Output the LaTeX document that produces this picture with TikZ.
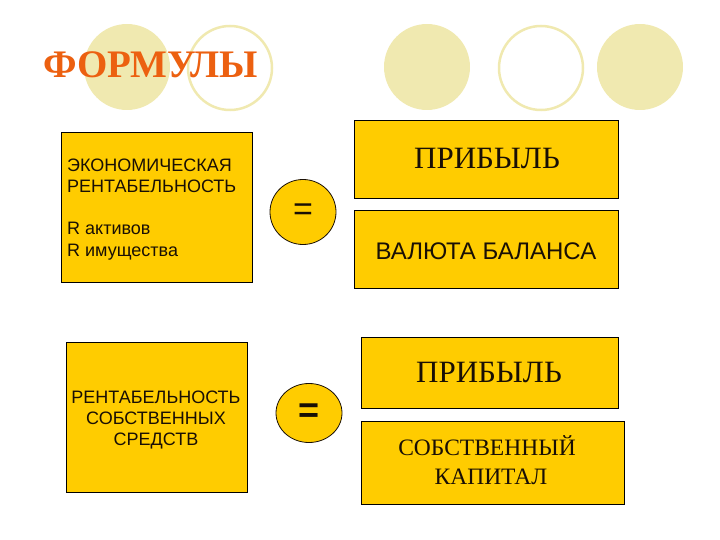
\documentclass[tikz,border=0pt]{standalone}
\usepackage{fontspec}
\setmainfont{Liberation Serif}
\newfontfamily\arialf{Liberation Sans}
\usetikzlibrary{shapes.geometric}
\definecolor{gold}{RGB}{255,204,0}
\definecolor{paleyel}{RGB}{240,233,176}
\definecolor{titleor}{RGB}{236,96,16}
\definecolor{inkc}{RGB}{25,15,5}
\tikzset{
  dot/.style={circle, minimum size=86pt, inner sep=0pt, fill=paleyel},
  ring/.style={circle, minimum size=84pt, inner sep=0pt, draw=paleyel, line width=2.5pt, fill=white},
  box/.style={rectangle, draw=black, line width=1pt, fill=gold, inner sep=0pt, anchor=north west},
  eqc/.style={ellipse, draw=inkc, line width=0.8pt, fill=gold, inner sep=0pt},
  sans/.style={font=\arialf\fontsize{18}{21}\selectfont, text=inkc, inner sep=0pt},
  serifbig/.style={font=\fontsize{31}{36}\selectfont, text=inkc, inner sep=0pt, anchor=base},
  serifmid/.style={font=\fontsize{23.5}{27}\selectfont, text=inkc, inner sep=0pt, anchor=base}
}
\begin{document}
\begin{tikzpicture}[x=1pt, y=-1pt]
\useasboundingbox (0,0) rectangle (720,540);
% background circles
\node[dot] (c1) at (127,67) {};
\node[ring] (c2) at (230,68) {};
\node[dot] (c3) at (427,67) {};
\node[ring] (c4) at (541,68) {};
\node[dot] (c5) at (640,67) {};
% title
\node[font=\bfseries\fontsize{39}{44}\selectfont, text=titleor, inner sep=0pt, anchor=base west] (title) at (43,78) {ФОРМУЛЫ};
% boxes
\node[box, minimum width=191pt, minimum height=150pt] (bA) at (61,132) {};
\node[box, minimum width=181pt, minimum height=150pt] (bC) at (66,342) {};
\node[box, minimum width=264pt, minimum height=78pt] (bB1) at (354,120) {};
\node[box, minimum width=264pt, minimum height=78pt] (bB2) at (354,210) {};
\node[box, minimum width=257pt, minimum height=71pt] (bD) at (361,337) {};
\node[box, minimum width=263pt, minimum height=83pt] (bE) at (361,421) {};
% equals circles
\node[eqc, minimum width=66pt, minimum height=65pt] (e1) at (303,212) {};
\node[font=\arialf\fontsize{34}{34}\selectfont, text=inkc, inner sep=0pt] (eq1) at (e1.center) {=};
\node[eqc, minimum width=66pt, minimum height=59pt] (e2) at (309,413) {};
\node[font=\arialf\bfseries\fontsize{36}{36}\selectfont, text=inkc, inner sep=0pt] (eq2) at (e2.center) {=};
% box A text
\node[sans, anchor=base west] (a1) at (67,172) {ЭКОНОМИЧЕСКАЯ};
\node[sans, anchor=base west] (a2) at (67,193) {РЕНТАБЕЛЬНОСТЬ};
\node[sans, anchor=base west] (a3) at (67,235) {R активов};
\node[sans, anchor=base west] (a4) at (67,256) {R имущества};
% box C text
\node[sans, anchor=base] (t1) at (156,403) {РЕНТАБЕЛЬНОСТЬ};
\node[sans, anchor=base] (t2) at (156,424) {СОБСТВЕННЫХ};
\node[sans, anchor=base] (t3) at (156,445) {СРЕДСТВ};
% right texts
\node[serifbig] (p1) at (487,169) {ПРИБЫЛЬ};
\node[font=\arialf\fontsize{24}{28}\selectfont, text=inkc, inner sep=0pt, anchor=base] (vb) at (486,259) {ВАЛЮТА БАЛАНСА};
\node[serifbig] (p2) at (489,382) {ПРИБЫЛЬ};
\node[serifmid] (sk1) at (487,455) {СОБСТВЕННЫЙ};
\node[serifmid] (sk2) at (491,484) {КАПИТАЛ};
\end{tikzpicture}
\end{document}
